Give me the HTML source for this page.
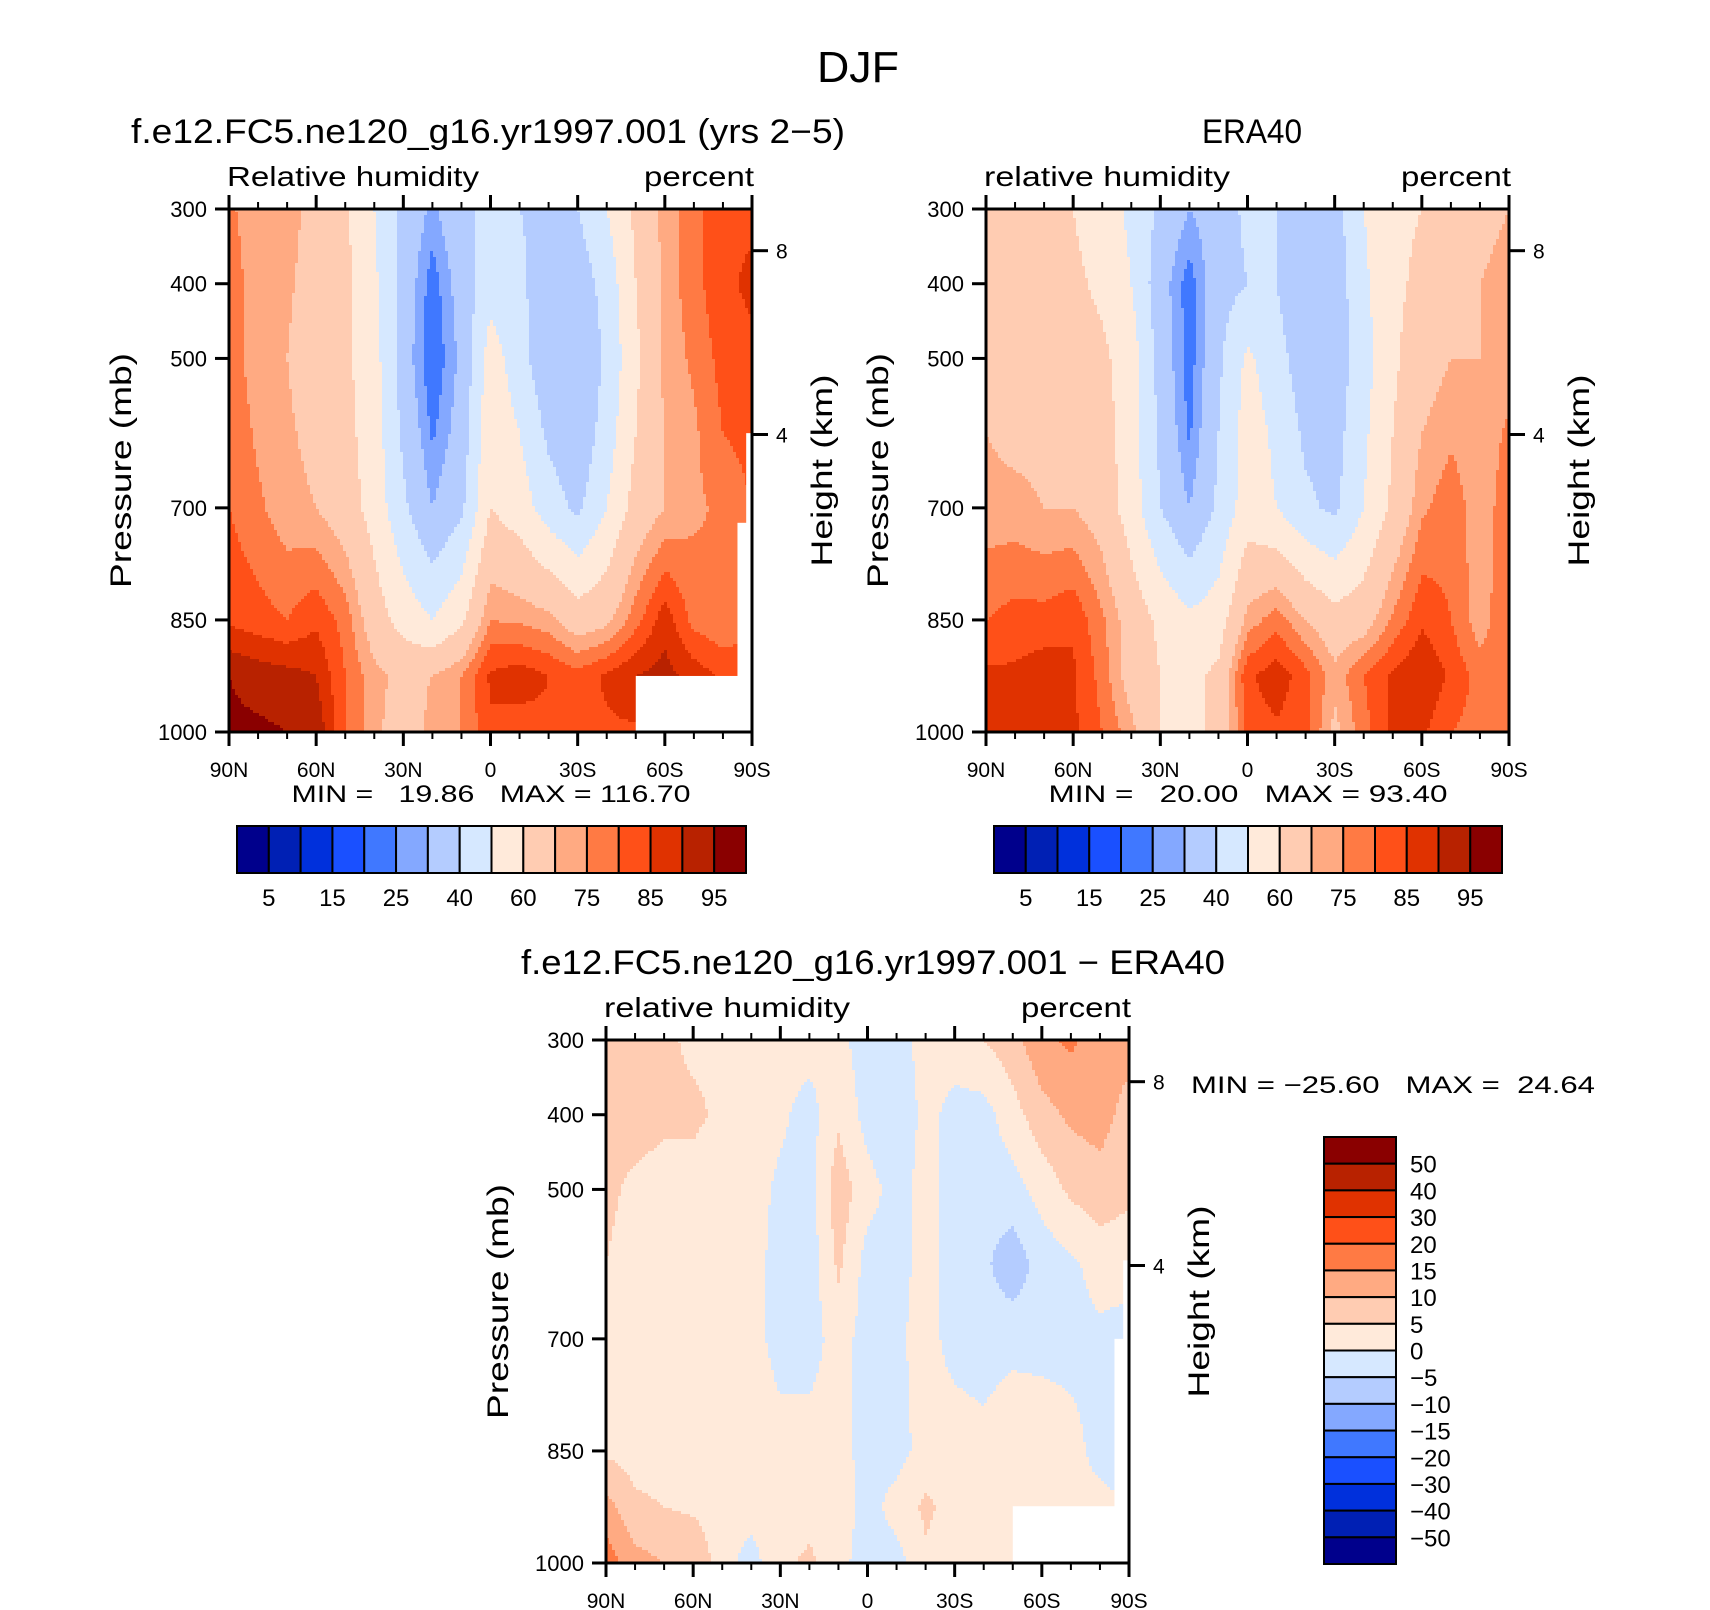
<!DOCTYPE html>
<html><head><meta charset="utf-8"><title>DJF relative humidity</title>
<style>
html,body{margin:0;padding:0;background:#fff;}
svg{display:block;font-family:"Liberation Sans",sans-serif;}
</style></head>
<body>
<svg id="fig" width="1710" height="1610" viewBox="0 0 1710 1610" xmlns="http://www.w3.org/2000/svg">
<rect x="0" y="0" width="1710" height="1610" fill="#fff"/>
<text x="858" y="82" font-size="44" text-anchor="middle" textLength="82" lengthAdjust="spacingAndGlyphs">DJF</text>
<text x="488" y="143" font-size="34" text-anchor="middle" textLength="714" lengthAdjust="spacingAndGlyphs">f.e12.FC5.ne120_g16.yr1997.001 (yrs 2−5)</text>
<text x="1252" y="143" font-size="34" text-anchor="middle" textLength="100" lengthAdjust="spacingAndGlyphs">ERA40</text>
<text x="873" y="974" font-size="34" text-anchor="middle" textLength="704" lengthAdjust="spacingAndGlyphs">f.e12.FC5.ne120_g16.yr1997.001 − ERA40</text>
<g id="panels"></g>
</svg>
<script>
// ---- data ----
const lats = [90,80,70,60,50,40,30,20,10,0,-10,-20,-30,-40,-50,-60,-70,-80,-90];
const plevs = [300,400,500,600,700,850,925,1000];
const modelRH = [
 [76,72,72,68,62,50,38,28,38,42,40,38,40,50,62,72,78,84,84],
 [78,72,71,67,62,52,36,22,34,46,42,34,34,44,60,72,78,84,86],
 [78,72,70,66,62,54,35,20,32,55,44,32,30,42,58,72,76,82,84],
 [79,74,71,68,63,55,38,24,34,58,50,38,32,45,60,70,74,80,82],
 [80,76,72,70,65,56,42,30,38,60,55,45,38,50,64,70,74,76,80],
 [84,82,80,84,78,65,56,50,58,75,74,72,65,68,78,88,78,76,78],
 [95,93,92,90,80,72,68,70,75,86,88,85,82,86,90,92,88,84,84],
 [96,96,95,94,80,72,65,72,75,84,82,84,84,84,84,84,84,84,84]
];
const eraRH = [
 [62,62,62,60,55,48,38,30,35,42,40,32,36,50,58,60,65,68,70],
 [64,63,63,62,58,50,34,22,36,40,40,30,34,48,58,62,68,70,72],
 [66,65,64,64,62,55,36,22,38,52,44,34,34,46,58,66,70,70,72],
 [70,68,68,68,64,55,38,24,40,55,48,38,36,48,60,70,74,72,76],
 [72,72,70,70,66,55,40,30,42,55,50,42,38,50,62,74,78,72,78],
 [80,82,82,84,76,66,58,52,55,72,78,70,64,66,76,84,80,72,80],
 [86,86,88,86,78,66,60,58,62,84,88,82,72,80,86,90,84,78,80],
 [88,86,86,86,80,72,60,58,62,82,84,82,68,78,86,86,80,78,78]
];
const diffRH = [
 [8,8,6,4,4,3,2,2,1,-2,-2,2,3,5,8,14,16,12,12],
 [6,7,6,6,4,3,1,-2,4,-2,-5,2,-2,-2,3,8,11,12,8],
 [6,4,3,3,2,2,-1,-2,8,2,-2,2,-2,-3,-2,2,6,8,6],
 [5,3,2,2,2,2,-2,-3,6,-2,-2,2,-2,-4,-8,-3,-1,2,2],
 [4,3,2,2,2,2,-2,-2,2,-2,-1,2,-2,-3,-2,-2,-2,-1,-2],
 [4,3,3,4,2,3,2,2,2,-2,-2,2,3,2,5,4,2,-2,-8],
 [12,6,5,4,2,2,1,3,3,-2,2,6,3,2,2,2,2,2,2],
 [18,12,10,10,2,-2,4,6,2,-3,-2,4,3,2,2,2,2,2,2]
];
const absLevels = [5,10,15,20,25,30,40,50,60,70,75,80,85,90,95];
const absLabels = ["5","15","25","40","60","75","85","95"];
const diffLevels = [-50,-40,-30,-20,-15,-10,-5,0,5,10,15,20,30,40,50];
const diffLabels = ["50","40","30","20","15","10","5","0","−5","−10","−15","−20","−30","−40","−50"];
const palette = ["#00008c","#0020b4","#0030dc","#1a50ff","#4078ff","#84a8ff","#b4ccff","#d6e8ff",
 "#ffeada","#ffccb2","#ffaa82","#ff7a44","#ff5018","#e03200","#b82200","#8a0000"];
const pTicks = [300,400,500,700,850,1000];
const latMajor = [90,60,30,0,-30,-60,-90];
const latMajorLabels = ["90N","60N","30N","0","30S","60S","90S"];
const hTicks = [8,4];
const modelMask = [[-50,-90,925,1000],[-88,-90,600,1000],[-85,-90,720,1000]];
const diffMask = [[-50,-90,924,1000],[-88,-90,595,1000],[-85,-90,700,1000]];
const statsModel = ["19.86","116.70"];
const statsEra = ["20.00","93.40"];
const statsDiff = ["−25.60","24.64"];

const NS="http://www.w3.org/2000/svg";
const root=document.getElementById('panels');
function mk(tag,attrs,parent){const e=document.createElementNS(NS,tag);for(const k in attrs)e.setAttribute(k,attrs[k]);(parent||root).appendChild(e);return e;}
function txt(x,y,s,size,anchor,parent,name){const t=mk('text',{x:x,y:y,'font-size':size,'text-anchor':anchor||'middle'},parent);t.textContent=s;
 
 
 return t;}
const H=7.61, P0=1018;

function panel(opt){
 const g=mk('g',{});
 
 
 const x0=opt.x,y0=opt.y,w=523,h=523;
 const xS=lat=>x0+(90-lat)/180*w;
 const yS=p=>y0+(p-300)/700*h;
 const data=opt.data, lev=opt.levels;
 function val(lat,p){
  let i=0;while(i<plevs.length-2&&p>plevs[i+1])i++;
  let j=0;while(j<lats.length-2&&lat<lats[j+1])j++;
  const tp=Math.max(0,Math.min(1,(p-plevs[i])/(plevs[i+1]-plevs[i])));
  const tl=Math.max(0,Math.min(1,(lats[j]-lat)/(lats[j]-lats[j+1])));
  const a=data[i][j],b=data[i][j+1],c=data[i+1][j],d=data[i+1][j+1];
  return (a*(1-tl)+b*tl)*(1-tp)+(c*(1-tl)+d*tl)*tp;
 }
 function cls(v){let k=0;while(k<lev.length&&v>=lev[k])k++;return k;}
 const field=mk('g',{'shape-rendering':'crispEdges'},g);
 
 
 const st=3;
 function flush(x1,x2,y,hh,c){
  const r=mk('rect',{x:x0+x1,y:y0+y,width:x2-x1,height:hh,fill:palette[c]},field);
  
  
 }
 for(let py=0;py<h;py+=st){
  const hh=Math.min(st,h-py);
  const p=300+(py+hh/2)/h*700;
  let runStart=0,runC=-1;
  for(let px=0;px<w;px+=st){
   const ww=Math.min(st,w-px);
   const lat=90-(px+ww/2)/w*180;
   const c=cls(val(lat,p));
   if(c!==runC){
    if(runC>=0)flush(runStart,px,py,hh,runC);
    runStart=px;runC=c;
   }
  }
  if(runC>=0)flush(runStart,w,py,hh,runC);
 }
 (opt.mask||[]).forEach(m=>{const r=mk('rect',{x:xS(m[0]),y:yS(m[2]),width:xS(m[1])-xS(m[0]),height:yS(m[3])-yS(m[2]),fill:'#fff'},g);
  
  });
 const frame=mk('rect',{x:x0,y:y0,width:w,height:h,fill:'none',stroke:'#000','stroke-width':3},g);
 
 
 for(let lat=90;lat>=-90;lat-=10){
  const major=lat%30===0, L=major?14:7, x=xS(lat);
  mk('line',{x1:x,x2:x,y1:y0+h,y2:y0+h+L,stroke:'#000','stroke-width':major?3:2},g);
  mk('line',{x1:x,x2:x,y1:y0,y2:y0-L,stroke:'#000','stroke-width':major?3:2},g);
 }
 latMajor.forEach((lat,i)=>txt(xS(lat),y0+h+45,latMajorLabels[i],21,'middle',g,'x-tick-label'));
 pTicks.forEach(p=>{const y=yS(p);mk('line',{x1:x0-14,x2:x0,y1:y,y2:y,stroke:'#000','stroke-width':3},g);
  txt(x0-22,y+8,String(p),22,'end',g,'y-tick-label');});
 hTicks.forEach(z=>{const p=P0*Math.exp(-z/H),y=yS(p);mk('line',{x1:x0+w,x2:x0+w+16,y1:y,y2:y,stroke:'#000','stroke-width':3},g);
  txt(x0+w+24,y+8,String(z),21,'start',g,'right-tick-label');});
 const lt=txt(x0-2,y0-23,opt.left,28,'start',g,'variable-label');
 lt.setAttribute('textLength',opt.leftLen);lt.setAttribute('lengthAdjust','spacingAndGlyphs');
 const pc=txt(x0+w+2,y0-23,'percent',28,'end',g,'units-label');
 pc.setAttribute('textLength',110);pc.setAttribute('lengthAdjust','spacingAndGlyphs');
 const yt=txt(0,0,'Pressure (mb)',30,'middle',g,'y-axis-title');
 yt.setAttribute('transform',`translate(${x0-98},${y0+h/2}) rotate(-90)`);
 yt.setAttribute('textLength',235);yt.setAttribute('lengthAdjust','spacingAndGlyphs');
 const ht=txt(0,0,'Height (km)',30,'middle',g,'right-axis-title');
 ht.setAttribute('transform',`translate(${x0+w+80},${y0+h/2}) rotate(-90)`);
 ht.setAttribute('textLength',192);ht.setAttribute('lengthAdjust','spacingAndGlyphs');
 return g;
}
function hbar(x0,y0,w,h,labels){
 const g=mk('g',{});
 
 
 const cw=w/palette.length;
 palette.forEach((c,i)=>{const r=mk('rect',{x:x0+i*cw,y:y0,width:cw,height:h,fill:c,stroke:'#000','stroke-width':2},g);
  
  });
 labels.forEach((s,k)=>txt(x0+(2*k+1)*cw,y0+h+33,s,24,'middle',g,'colorbar-label'));
}
function vbar(x0,y0,w,h){
 const g=mk('g',{});
 
 
 const ch=h/palette.length;
 for(let i=0;i<palette.length;i++){const r=mk('rect',{x:x0,y:y0+i*ch,width:w,height:ch,fill:palette[palette.length-1-i],stroke:'#000','stroke-width':2},g);
  
  }
 diffLabels.forEach((s,k)=>txt(x0+w+14,y0+(k+1)*ch+9,s,24,'start',g,'colorbar-label'));
}
panel({name:'model-panel',x:229,y:209,data:modelRH,levels:absLevels,mask:modelMask,left:'Relative humidity',leftLen:252});
panel({name:'era40-panel',x:986,y:209,data:eraRH,levels:absLevels,mask:[],left:'relative humidity',leftLen:246});
panel({name:'difference-panel',x:606,y:1040,data:diffRH,levels:diffLevels,mask:diffMask,left:'relative humidity',leftLen:246});
function stats(cx,y,v){const t=txt(cx,y,`MIN =   ${v[0]}   MAX = ${v[1]}`,24,'middle',root,'min-max-text');t.style.whiteSpace='pre';
 t.setAttribute('textLength',399);t.setAttribute('lengthAdjust','spacingAndGlyphs');}
stats(491,802,statsModel);
stats(1248,802,statsEra);
const t3=txt(1191,1093,`MIN = ${statsDiff[0]}   MAX =  ${statsDiff[1]}`,24,'start',root,'min-max-text');t3.style.whiteSpace='pre';
t3.setAttribute('textLength',404);t3.setAttribute('lengthAdjust','spacingAndGlyphs');
hbar(237,826,509,47,absLabels);
hbar(994,826,508,47,absLabels);
vbar(1324,1137,72,427);
</script>
</body></html>
